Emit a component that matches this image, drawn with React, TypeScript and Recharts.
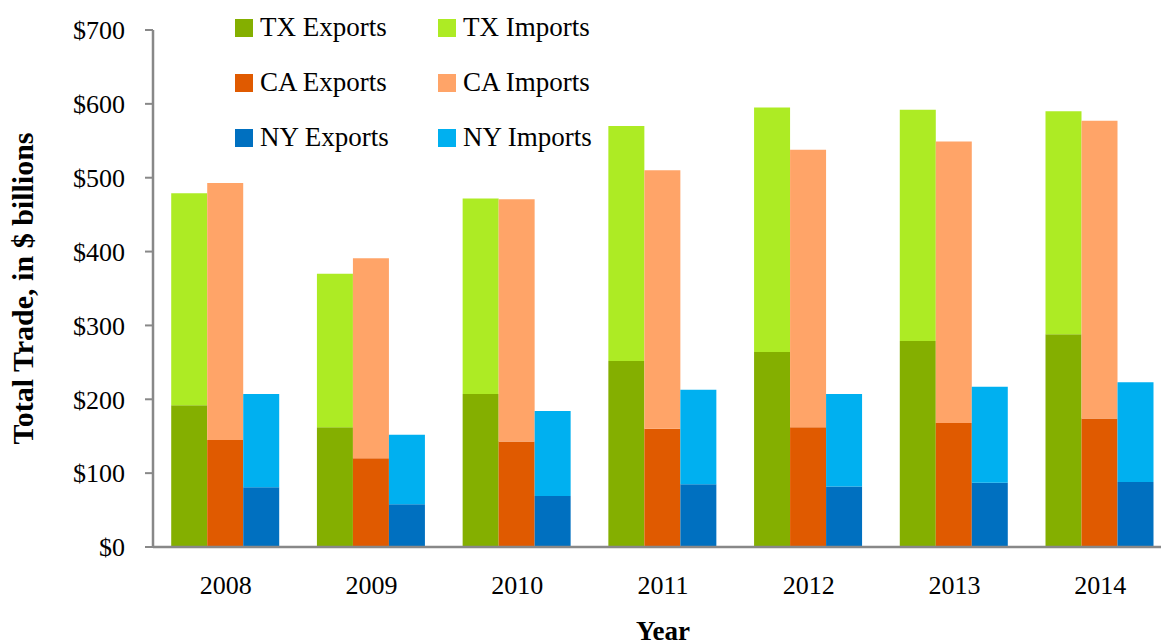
import React from 'react';
import { BarChart, Bar, XAxis, YAxis, Legend } from 'recharts';

const years = ['2008', '2009', '2010', '2011', '2012', '2013', '2014'];
const txExports = [192, 162, 207, 252, 264, 279, 288];
const txImports = [287, 208, 265, 318, 331, 313, 302];
const caExports = [145, 120, 143, 160, 162, 168, 174];
const caImports = [348, 271, 328, 350, 376, 381, 403];
const nyExports = [81, 58, 69, 85, 82, 87, 88];
const nyImports = [126, 94, 115, 128, 125, 130, 135];
const yTicks = [0, 100, 200, 300, 400, 500, 600, 700];

const seriesKeys = ['txExp', 'txImp', 'caExp', 'caImp', 'nyExp', 'nyImp'];
const seriesNames = ['TX Exports', 'TX Imports', 'CA Exports', 'CA Imports', 'NY Exports', 'NY Imports'];
const seriesStacks = ['TX', 'TX', 'CA', 'CA', 'NY', 'NY'];

const data = years.map((year, i) => ({
  year,
  txExp: txExports[i],
  txImp: txImports[i],
  caExp: caExports[i],
  caImp: caImports[i],
  nyExp: nyExports[i],
  nyImp: nyImports[i],
}));

const COLORS: Record<string, string> = {
  txExp: '#84AF00',
  txImp: '#ADEB24',
  caExp: '#E05A00',
  caImp: '#FFA468',
  nyExp: '#0070C0',
  nyImp: '#00B0F0',
};

const FONT = '"Liberation Serif", "Times New Roman", serif';

const renderLegend = () => (
  <div
    style={{
      display: 'grid',
      gridTemplateColumns: '203px 203px',
      gridAutoRows: '55px',
      fontFamily: FONT,
      fontSize: 27,
      color: '#000',
    }}
  >
    {seriesKeys.map((k, i) => (
      <div key={k} style={{ display: 'flex', alignItems: 'center' }}>
        <span
          style={{
            display: 'inline-block',
            width: 18,
            height: 18,
            background: COLORS[k],
            marginRight: 7,
            flex: 'none',
          }}
        />
        <span style={{ lineHeight: 1, whiteSpace: 'nowrap' }}>{seriesNames[i]}</span>
      </div>
    ))}
  </div>
);

export default function App() {
  return (
    <div
      style={{
        position: 'absolute',
        left: 0,
        top: 0,
        width: 1161,
        height: 644,
        overflow: 'hidden',
        background: '#fff',
        fontFamily: FONT,
      }}
    >
      <BarChart
        width={1175}
        height={644}
        data={data}
        margin={{ top: 30, right: 2, left: 0, bottom: 0 }}
        barGap={0}
        barCategoryGap="12.5%"
      >
        <XAxis
          dataKey="year"
          height={97}
          axisLine={{ stroke: '#888', strokeWidth: 2.5 }}
          tickLine={false}
          tickSize={0}
          tickMargin={29}
          tick={{ fill: '#000', fontSize: 26, fontFamily: FONT }}
          label={{
            value: 'Year',
            position: 'insideBottom',
            offset: 4,
            style: { fontWeight: 'bold', fontSize: 27, fill: '#000', fontFamily: FONT },
          }}
        />
        <YAxis
          width={153}
          domain={[0, 700]}
          ticks={yTicks}
          interval={0}
          tickFormatter={(v: number) => `$${v}`}
          axisLine={{ stroke: '#888', strokeWidth: 2.5 }}
          tickLine={{ stroke: '#888', strokeWidth: 2 }}
          tickSize={8}
          tickMargin={20}
          tick={{ fill: '#000', fontSize: 26, fontFamily: FONT }}
          label={{
            value: 'Total Trade, in $ billions',
            angle: -90,
            position: 'insideLeft',
            offset: 22,
            style: {
              textAnchor: 'middle',
              fontWeight: 'bold',
              fontSize: 30,
              fill: '#000',
              fontFamily: FONT,
            },
          }}
        />
        <Legend
          layout="vertical"
          verticalAlign="middle"
          align="center"
          content={renderLegend}
          wrapperStyle={{ position: 'absolute', left: 235, top: 0, width: 420 }}
        />
        {seriesKeys.map((k, i) => (
          <Bar
            key={k}
            dataKey={k}
            name={seriesNames[i]}
            stackId={seriesStacks[i]}
            fill={COLORS[k]}
            isAnimationActive={false}
          />
        ))}
      </BarChart>
    </div>
  );
}
